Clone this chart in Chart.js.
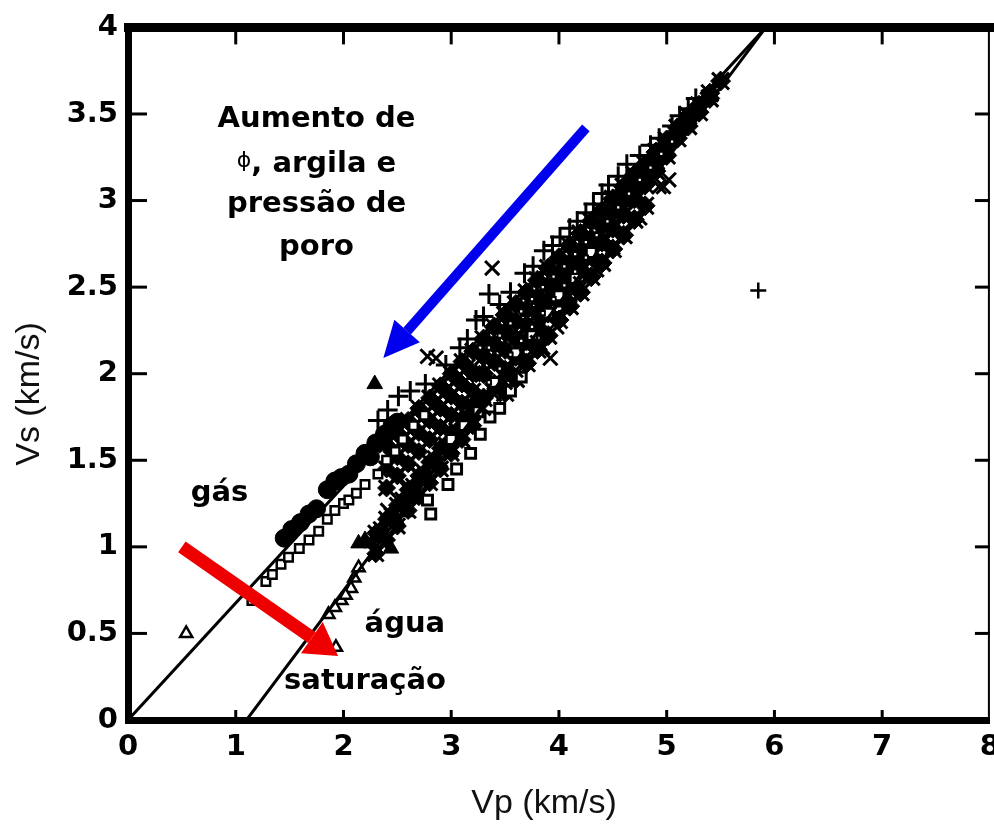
<!DOCTYPE html>
<html lang="pt">
<head>
<meta charset="utf-8">
<title>Vp x Vs</title>
<script src="https://cdn.jsdelivr.net/npm/chart.js@4.4.1/dist/chart.umd.min.js"></script>
<style>
  html, body { margin: 0; padding: 0; background: #fff; overflow: hidden; }
  #wrap { position: relative; width: 1010px; height: 825px; }
</style>
</head>
<body>
<div id="wrap"><canvas id="grafico"></canvas></div>
<script>
// eixos
const valoresX = [0, 1, 2, 3, 4, 5, 6, 7, 8];
const rotulosX = ['0', '1', '2', '3', '4', '5', '6', '7', '8'];
const valoresY = [0, 0.5, 1, 1.5, 2, 2.5, 3, 3.5, 4];
const rotulosY = ['0', '0.5', '1', '1.5', '2', '2.5', '3', '3.5', '4'];

// retas de tendencia (gas e agua)
const linhaGas = [[0, 0], [5.92, 4]];
const linhaAgua = [[1.1, 0], [5.92, 4]];

// medidas [Vp, Vs] em km/s
const circulosCheios = [[1.45,1.05],[1.52,1.10],[1.60,1.14],[1.68,1.19],[1.75,1.22],[1.85,1.33],[1.92,1.38],
  [1.98,1.40],[2.05,1.42],[2.12,1.48],[2.20,1.54],[2.25,1.52],[2.30,1.60],[2.38,1.65],[2.45,1.70],[2.50,1.72]];
const quadradosGas = [[1.15,0.69],[1.28,0.80],[1.34,0.84],[1.42,0.90],[1.49,0.94],[1.59,0.99],[1.68,1.04],
  [1.77,1.09],[1.85,1.16],[1.92,1.21],[2.00,1.25],[2.05,1.27],[2.12,1.31],[2.20,1.36],[2.32,1.42],[2.40,1.50],
  [2.48,1.55],[2.55,1.62],[2.65,1.70],[2.75,1.76]];
const cruzes = [[2.32,1.73],[2.41,1.79],[2.51,1.87],[2.62,1.90],[2.76,1.94],[2.95,2.05],[3.08,2.15],[3.15,2.20],
  [3.23,2.31],[3.30,2.33],[3.35,2.46],[3.45,2.40],[3.55,2.47],[3.68,2.58],[3.76,2.62],[3.86,2.71],[3.94,2.74],
  [4.01,2.79],[4.10,2.84],[4.17,2.88],[4.25,2.93],[4.32,2.98],[4.40,3.04],[4.46,3.09],[4.55,3.14],[4.63,3.21],
  [4.75,3.26],[4.85,3.32],[4.93,3.36],[5.05,3.43],[5.12,3.49],[5.20,3.53],[5.27,3.59]];
const cruzIsolada = [[5.85,2.48]];
const xis = [[2.78,2.10],[2.86,2.09],[3.38,2.61],[3.92,2.09],[3.98,2.27],[4.05,2.38],[4.35,2.60],[4.50,2.73],
  [4.75,2.90],[4.93,3.08],[5.02,3.12],[4.97,3.08],[2.41,1.21],[2.51,1.27],[2.66,1.34],[2.78,1.40],[2.90,1.50],
  [3.00,1.56],[3.10,1.62],[3.20,1.72],[3.30,1.80],[3.40,1.88],[3.50,1.95],[3.60,2.02],[3.70,2.10],[3.80,2.18],
  [3.85,2.15],[4.10,2.45],[4.20,2.52],[4.30,2.58],[4.40,2.66],[4.60,2.82]];
const quadrados = [[2.81,1.19],[2.78,1.27],[2.97,1.36],[3.05,1.45],[3.18,1.54],[3.27,1.65],[3.36,1.75],
  [3.45,1.80],[3.55,1.90],[3.65,1.98],[3.00,1.62],[3.12,1.70],[3.25,1.78],[3.40,1.95],[3.60,2.12],[3.75,2.22],
  [3.90,2.35],[4.00,2.45],[4.15,2.55],[4.30,2.70]];
const triangulosCheios = [[2.29,1.94],[2.14,1.02],[2.26,1.02],[2.44,0.99],[2.35,1.09],[2.30,1.05],[2.20,1.04],
  [2.50,1.15],[2.58,1.20],[2.65,1.28]];
const triangulosAbertos = [[0.54,0.50],[1.86,0.61],[1.98,0.69],[2.07,0.76],[2.14,0.88],[1.92,0.65],[2.02,0.72],
  [2.10,0.82],[1.93,0.42]];
const bandaSuperior = [[2.4,1.59],[2.4,1.45],[2.4,1.34],[2.5,1.66],[2.5,1.52],[2.5,1.41],[2.6,1.73],[2.6,1.59],
  [2.6,1.48],[2.7,1.80],[2.7,1.66],[2.7,1.55],[2.8,1.86],[2.8,1.73],[2.8,1.62],[2.9,1.93],[2.9,1.80],[2.9,1.69],
  [3.0,2.00],[3.0,1.87],[3.0,1.76],[3.1,2.07],[3.1,1.94],[3.1,1.83],[3.2,2.13],[3.2,2.00],[3.2,1.90],
  [2.45,1.55],[2.55,1.62],[2.65,1.69],[2.75,1.76],[2.85,1.83],[2.95,1.90],[3.05,1.97],[3.15,2.04]];
const bandaInferior = [[2.3,0.96],[2.3,1.08],[2.4,1.04],[2.4,1.16],[2.5,1.12],[2.5,1.24],[2.6,1.21],[2.6,1.33],
  [2.7,1.29],[2.7,1.41],[2.8,1.37],[2.8,1.49],[2.9,1.45],[2.9,1.57],[3.0,1.54],[3.0,1.66],[3.1,1.62],[3.1,1.74],
  [3.2,1.70],[3.2,1.82],[2.35,1.10],[2.45,1.18],[2.55,1.27],[2.65,1.35],[2.75,1.43],[2.85,1.51],[2.95,1.59],
  [3.05,1.67],[3.15,1.75]];
const bandaPrincipal = [[3.3,2.20],[3.3,2.10],[3.3,2.00],[3.3,1.86],[3.4,2.27],[3.4,2.17],[3.4,2.07],[3.4,1.94],
  [3.5,2.34],[3.5,2.24],[3.5,2.14],[3.5,2.02],[3.5,1.89],[3.6,2.40],[3.6,2.30],[3.6,2.20],[3.6,2.10],[3.6,1.97],
  [3.7,2.47],[3.7,2.37],[3.7,2.28],[3.7,2.19],[3.7,2.06],[3.8,2.54],[3.8,2.44],[3.8,2.35],[3.8,2.27],[3.8,2.14],
  [3.9,2.61],[3.9,2.51],[3.9,2.43],[3.9,2.35],[3.9,2.22],[4.0,2.67],[4.0,2.57],[4.0,2.50],[4.0,2.44],[4.0,2.31],
  [4.1,2.74],[4.1,2.64],[4.1,2.57],[4.1,2.52],[4.1,2.39],[4.2,2.81],[4.2,2.71],[4.2,2.64],[4.2,2.60],[4.2,2.47],
  [4.3,2.88],[4.3,2.78],[4.3,2.68],[4.3,2.56],[4.4,2.94],[4.4,2.85],[4.4,2.76],[4.4,2.64],[4.5,3.01],[4.5,2.93],
  [4.5,2.84],[4.5,2.72],[4.6,3.08],[4.6,3.00],[4.6,2.92],[4.6,2.80],[4.7,3.15],[4.7,3.08],[4.7,3.01],[4.7,2.89],
  [4.8,3.21],[4.8,3.15],[4.8,3.09],[4.8,2.97],[4.9,3.28],[4.9,3.23],[4.9,3.17],[5.0,3.35],[5.0,3.31],[5.0,3.26],
  [5.1,3.42],[5.1,3.36],[5.2,3.49],[5.2,3.43],[5.3,3.55],[5.3,3.51],[5.4,3.62],[5.4,3.59],[5.5,3.69]];
const bandaMeio = [[3.35,2.15],[3.45,2.22],[3.55,2.29],[3.65,2.36],[3.75,2.43],[3.85,2.50],[3.95,2.56],
  [4.05,2.62],[4.15,2.69],[4.25,2.76],[3.35,1.95],[3.45,2.03],[3.55,2.11],[3.65,2.19],[3.75,2.27],[3.85,2.35],
  [3.95,2.43],[4.05,2.51],[4.15,2.59],[4.25,2.67],[4.35,2.80],[4.45,2.88],[4.55,2.96],[4.65,3.04],[4.75,3.12],
  [4.85,3.19],[4.95,3.27],[5.05,3.34]];

// textos do grafico
const textoAumento = ['Aumento de', ', argila e', 'pressão de', 'poro'];
const tituloX = 'Vp (km/s)';
const tituloY = 'Vs (km/s)';

const pts = arr => arr.map(([x, y]) => ({ x, y }));
const NEGRITO = '"DejaVu Sans", Verdana, sans-serif';
const NORMAL = '"Liberation Sans", Arial, sans-serif';

const marcador = (data, style, r, fill, bw) => ({
    type: 'scatter',
    data: pts(data),
    pointStyle: style,
    pointRadius: r,
    pointBackgroundColor: fill,
    pointBorderColor: '#000',
    pointBorderWidth: bw
});

const reta = data => ({
    type: 'line',
    data: pts(data),
    borderColor: '#000',
    borderWidth: 3,
    pointRadius: 0,
    fill: false
});

const seta = (ctx, x0, y0, x1, y1, cor, w, L, H) => {
    const ang = Math.atan2(y1 - y0, x1 - x0);
    const bx = x1 - L * Math.cos(ang), by = y1 - L * Math.sin(ang);
    ctx.strokeStyle = cor;
    ctx.fillStyle = cor;
    ctx.lineWidth = w;
    ctx.lineCap = 'butt';
    ctx.beginPath();
    ctx.moveTo(x0, y0);
    ctx.lineTo(bx, by);
    ctx.stroke();
    const nx = -Math.sin(ang) * H, ny = Math.cos(ang) * H;
    ctx.beginPath();
    ctx.moveTo(x1, y1);
    ctx.lineTo(bx + nx, by + ny);
    ctx.lineTo(bx - nx, by - ny);
    ctx.closePath();
    ctx.fill();
};

const moldura = {
    id: 'moldura',
    afterDraw(chart) {
        const { ctx, chartArea: a, scales: { x, y } } = chart;
        const linha = (x0, y0, x1, y1) => { ctx.beginPath(); ctx.moveTo(x0, y0); ctx.lineTo(x1, y1); ctx.stroke(); };
        ctx.save();
        ctx.strokeStyle = '#000';
        ctx.lineWidth = 9;
        linha(a.left - 4, a.top, chart.width, a.top);
        ctx.lineWidth = 2;
        linha(a.right - 1, a.top, a.right - 1, a.bottom);
        ctx.lineWidth = 3;
        y.ticks.forEach(t => {
            if (t.value <= 0 || t.value >= 4) return;
            const py = y.getPixelForValue(t.value);
            linha(a.left, py, a.left + 19, py);
            linha(a.right - 15, py, a.right, py);
        });
        x.ticks.forEach(t => {
            if (t.value <= 0 || t.value >= 8) return;
            const px = x.getPixelForValue(t.value);
            linha(px, a.top, px, a.top + 17);
            linha(px, a.bottom, px, a.bottom - 10);
        });

        // setas
        seta(ctx, x.getPixelForValue(4.25), y.getPixelForValue(3.42), x.getPixelForValue(2.37), y.getPixelForValue(2.09),
            '#0000ee', 10, 36, 17);
        seta(ctx, x.getPixelForValue(0.50), y.getPixelForValue(1.00), x.getPixelForValue(1.95), y.getPixelForValue(0.37),
            '#ee0000', 13, 32, 19);

        // textos
        ctx.fillStyle = '#000';
        ctx.textBaseline = 'middle';
        ctx.textAlign = 'center';
        ctx.font = `bold 29px ${NEGRITO}`;
        const cx = x.getPixelForValue(1.75);
        const ys = [3.47, 3.21, 2.98, 2.73];
        textoAumento.forEach((txt, i) => {
            if (i === 1) {
                ctx.font = `22px ${NEGRITO}`;
                const wPhi = ctx.measureText('ϕ').width;
                ctx.font = `bold 29px ${NEGRITO}`;
                const wResto = ctx.measureText(txt).width;
                const x0 = cx - (wPhi + wResto) / 2;
                ctx.textAlign = 'left';
                ctx.font = `22px ${NEGRITO}`;
                ctx.fillText('ϕ', x0, y.getPixelForValue(ys[i]) - 3);
                ctx.font = `bold 29px ${NEGRITO}`;
                ctx.fillText(txt, x0 + wPhi, y.getPixelForValue(ys[i]));
                ctx.textAlign = 'center';
            } else {
                ctx.fillText(txt, cx, y.getPixelForValue(ys[i]));
            }
        });
        ctx.fillText('gás', x.getPixelForValue(0.85), y.getPixelForValue(1.31));
        ctx.fillText('água', x.getPixelForValue(2.57), y.getPixelForValue(0.55));
        ctx.fillText('saturação', x.getPixelForValue(2.20), y.getPixelForValue(0.22));

        // titulos dos eixos
        ctx.fillStyle = '#111';
        ctx.font = `34px ${NORMAL}`;
        ctx.fillText(tituloX, 544, 804);
        ctx.translate(30, 394);
        ctx.rotate(-Math.PI / 2);
        ctx.fillText(tituloY, 0, 0);
        ctx.restore();
    }
};

const chart = new Chart(document.getElementById('grafico'), {
    type: 'scatter',
    data: {
        datasets: [
            reta(linhaGas),
            reta(linhaAgua),
            marcador(cruzIsolada, 'cross', 8, '#000', 2.5),
            marcador(bandaMeio, 'rect', 3, '#fff', 2),
            marcador(triangulosAbertos, 'triangle', 7, '#fff', 2.5),
            marcador(triangulosCheios, 'triangle', 9, '#000', 1),
            marcador(circulosCheios, 'circle', 9, '#000', 1),
            marcador(quadradosGas, 'rect', 6, '#fff', 2.5),
            marcador(cruzes, 'cross', 10, '#000', 3),
            marcador(xis, 'crossRot', 10, '#000', 3),
            marcador(quadrados, 'rect', 7, '#fff', 3),
            marcador(bandaSuperior, 'crossRot', 11, '#000', 3),
            marcador(bandaInferior, 'crossRot', 11, '#000', 3),
            marcador(bandaPrincipal, 'crossRot', 12, '#000', 3),
            marcador(bandaSuperior, 'rectRot', 9, '#000', 1),
            marcador(bandaInferior, 'rectRot', 9, '#000', 1),
            marcador(bandaPrincipal, 'rectRot', 10, '#000', 1)
        ]
    },
    options: {
        responsive: true,
        maintainAspectRatio: false,
        animation: false,
        layout: { padding: { top: 26, right: 15, left: 0, bottom: 0 } },
        plugins: { legend: { display: false }, tooltip: { enabled: false } },
        scales: {
            x: {
                type: 'linear',
                min: 0,
                max: 8,
                afterFit: s => { s.height = 105; },
                afterBuildTicks: s => { s.ticks = valoresX.map(v => ({ value: v })); },
                ticks: {
                    padding: 10,
                    color: '#000',
                    font: { family: NEGRITO, weight: 'bold', size: 29 },
                    callback: (v, i) => rotulosX[i]
                },
                grid: { display: false, drawTicks: false },
                border: { display: true, width: 7, color: '#000' }
            },
            y: {
                type: 'linear',
                min: 0,
                max: 4,
                afterFit: s => { s.width = 128; },
                afterBuildTicks: s => { s.ticks = valoresY.map(v => ({ value: v })); },
                ticks: {
                    padding: 10,
                    color: '#000',
                    font: { family: NEGRITO, weight: 'bold', size: 29 },
                    callback: (v, i) => rotulosY[i]
                },
                grid: { display: false, drawTicks: false },
                border: { display: true, width: 7, color: '#000' }
            }
        }
    },
    plugins: [moldura]
});
</script>
</body>
</html>
